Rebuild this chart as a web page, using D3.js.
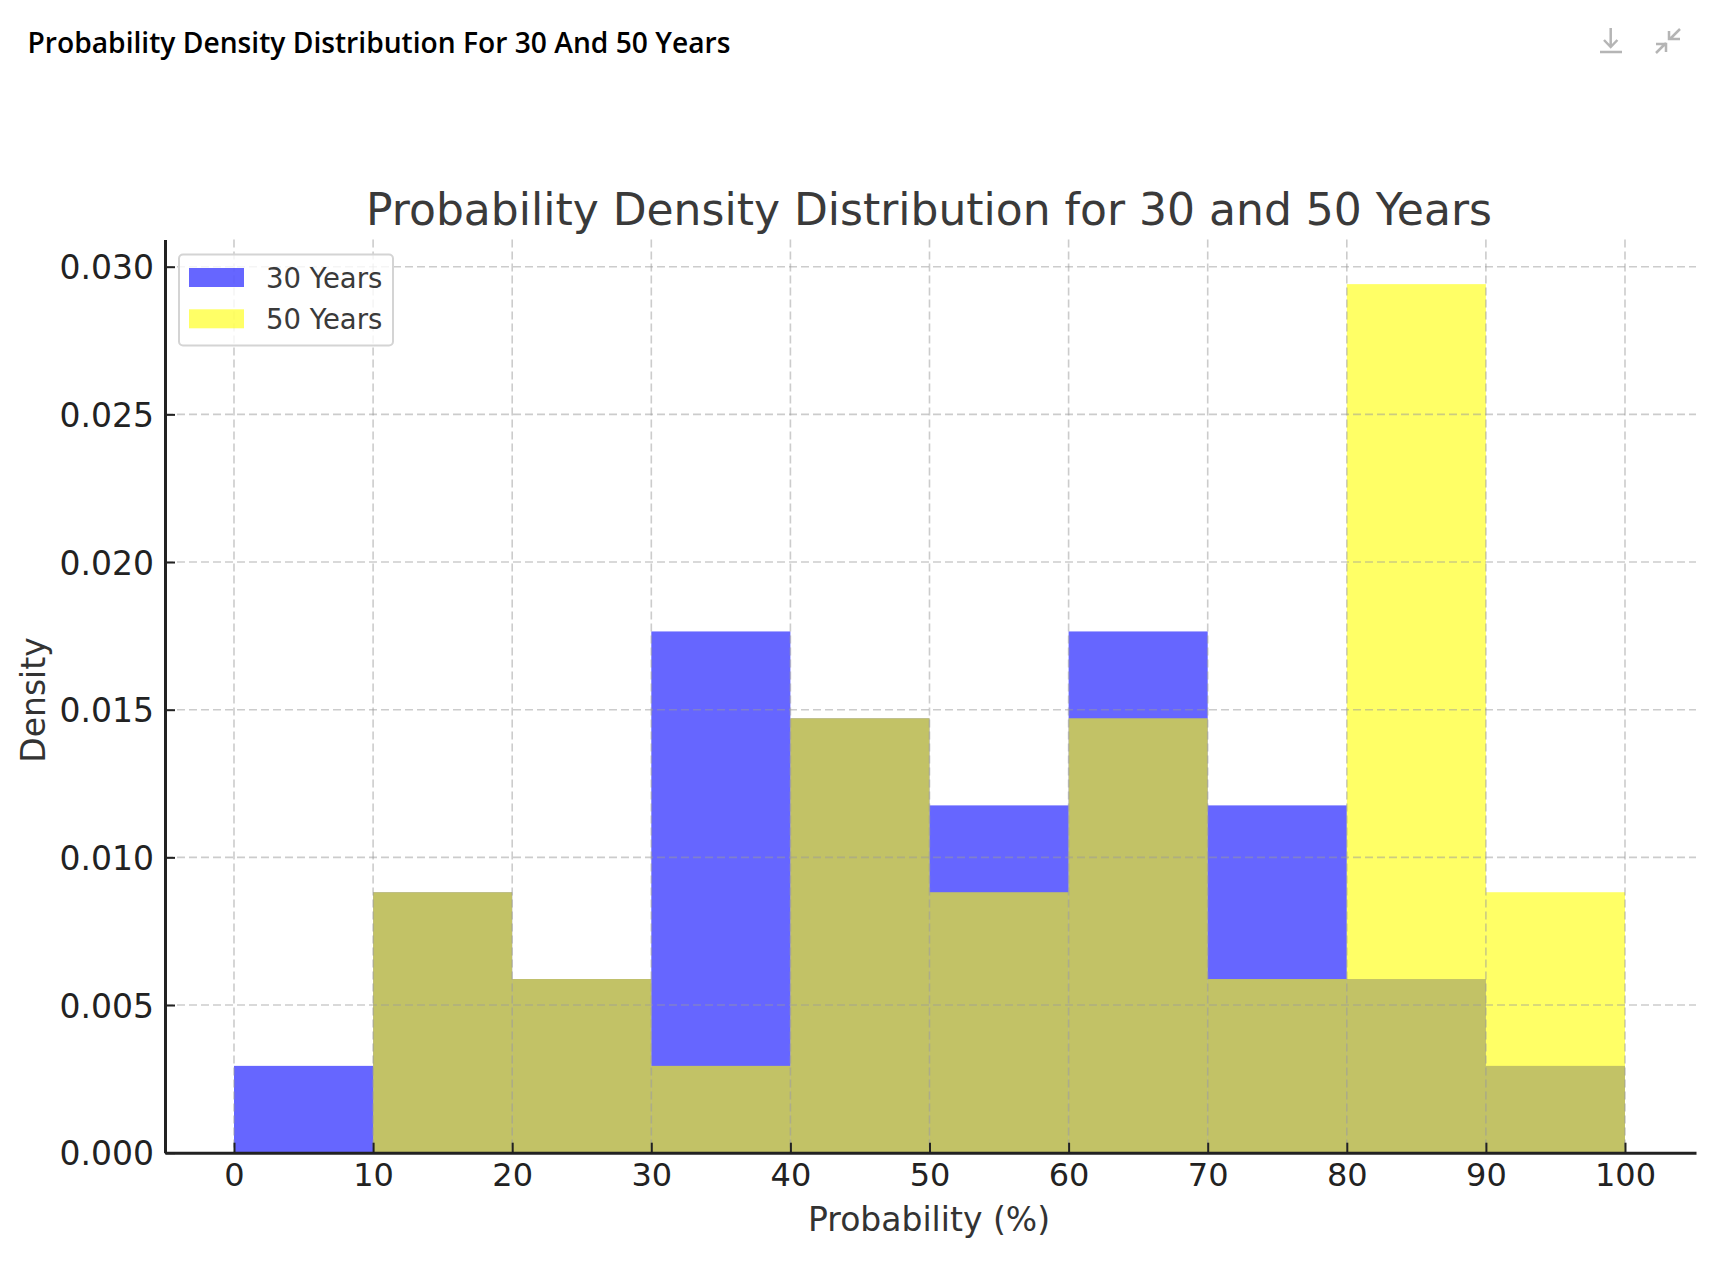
<!DOCTYPE html>
<html>
<head>
<meta charset="utf-8">
<script src="https://cdn.jsdelivr.net/npm/d3@7"></script>
<style>
  html, body { margin: 0; padding: 0; background: #fff; }
  svg { display: block; }
  text { font-family: "DejaVu Sans", sans-serif; }
  .page_title { font-family: "Open Sans", sans-serif; font-weight: 600; font-size: 28.2px; fill: #000; }
  .chart_title { font-size: 44px; fill: #3a3a3a; }
  .axis_label { font-size: 33px; fill: #333; }
  .axis text { font-size: 32px; fill: #222; font-family: "DejaVu Sans", sans-serif; }
  .y_axis text { font-size: 33px; }
  .axis path, .axis line { stroke: #222; }
  .axis path { stroke-width: 3px; }
  .axis line { stroke-width: 2px; }
  .grid line { stroke: #999; stroke-opacity: 0.5; stroke-width: 1.6px; stroke-dasharray: 8 4; }
  .legend_label { font-size: 27.5px; fill: #3a3a3a; }
  .icon { fill: none; stroke: #b5b5b5; stroke-width: 2.5px; }
</style>
</head>
<body>
<svg id="chart" width="1710" height="1264"></svg>
<script>
var pageTitle = 'Probability Density Distribution For 30 And 50 Years';
var chartTitle = 'Probability Density Distribution for 30 and 50 Years';
var xLabel = 'Probability (%)';
var yLabel = 'Density';

var binStarts = [0, 10, 20, 30, 40, 50, 60, 70, 80, 90];
var binWidth = 10;
var years30 = [0.00294, 0.00882, 0.00588, 0.01765, 0.01471, 0.01176, 0.01765, 0.01176, 0.00588, 0.00294];
var years50 = [0, 0.00882, 0.00588, 0.00294, 0.01471, 0.00882, 0.01471, 0.00588, 0.02941, 0.00882];
var xTicks = [0, 10, 20, 30, 40, 50, 60, 70, 80, 90, 100];
var yTicks = [0, 0.005, 0.01, 0.015, 0.02, 0.025, 0.03];
var seriesNames = ['30 Years', '50 Years'];
var seriesColors = ['#0000ff', '#ffff00'];

var svg = d3.select('#chart');

var plotLeft = 165, plotRight = 1696, plotTop = 239.5, plotBottom = 1152.7;

var x = d3.scaleLinear().domain([0, 100]).range([234, 1625]);
var y = d3.scaleLinear().domain([0, 0.03]).range([plotBottom, 266.7]);

svg.append('text')
  .attr('class', 'page_title')
  .attr('x', 27.5)
  .attr('y', 53)
  .text(pageTitle);

// toolbar icons
svg.append('path')
  .attr('class', 'icon')
  .attr('d', 'M1610.7 28V47M1604 40L1610.7 47L1617.4 40M1600 52H1622');
svg.append('path')
  .attr('class', 'icon')
  .attr('d', 'M1680 29L1670 39M1669 31V39H1680M1656 53L1666 43M1656 44H1666V52');

svg.append('text')
  .attr('class', 'chart_title')
  .attr('x', 929)
  .attr('y', 224.5)
  .attr('text-anchor', 'middle')
  .text(chartTitle);

[years30, years50].forEach(function(values, i) {
  svg.append('g')
    .selectAll('rect')
    .data(values)
    .join('rect')
      .attr('x', function(d, j) { return x(binStarts[j]); })
      .attr('width', function(d, j) { return x(binStarts[j] + binWidth) - x(binStarts[j]); })
      .attr('y', function(d) { return y(d); })
      .attr('height', function(d) { return y(0) - y(d); })
      .attr('fill', seriesColors[i])
      .attr('fill-opacity', 0.6);
});

var grid = svg.append('g').attr('class', 'grid');

grid.selectAll('line.v')
  .data(xTicks)
  .join('line')
    .attr('class', 'v')
    .attr('x1', function(d) { return x(d); })
    .attr('x2', function(d) { return x(d); })
    .attr('y1', plotTop)
    .attr('y2', plotBottom);

grid.selectAll('line.h')
  .data(yTicks)
  .join('line')
    .attr('class', 'h')
    .attr('x1', plotLeft)
    .attr('x2', plotRight)
    .attr('y1', function(d) { return y(d); })
    .attr('y2', function(d) { return y(d); });

// axis scales share the full spine extent, so the domain path draws the spines
var xSpine = d3.scaleLinear()
  .domain([x.invert(plotLeft), x.invert(plotRight)])
  .range([plotLeft, plotRight]);
var ySpine = d3.scaleLinear()
  .domain([y.invert(plotBottom), y.invert(plotTop)])
  .range([plotBottom, plotTop]);

svg.append('g')
  .attr('class', 'axis')
  .attr('transform', 'translate(0,' + plotBottom + ')')
  .call(d3.axisBottom(xSpine).tickValues(xTicks).tickSize(-10).tickSizeOuter(0).tickPadding(11).tickFormat(d3.format('d')));

svg.append('g')
  .attr('class', 'axis y_axis')
  .attr('transform', 'translate(' + plotLeft + ',0)')
  .call(d3.axisLeft(ySpine).tickValues(yTicks).tickSize(-10).tickSizeOuter(0).tickPadding(11).tickFormat(d3.format('.3f')))
  .selectAll('text')
    .attr('dy', '0.37em');

svg.append('text')
  .attr('class', 'axis_label')
  .attr('x', 929)
  .attr('y', 1231)
  .attr('text-anchor', 'middle')
  .text(xLabel);

svg.append('text')
  .attr('class', 'axis_label')
  .attr('transform', 'translate(45,700) rotate(-90)')
  .attr('text-anchor', 'middle')
  .text(yLabel);

// legend
var legend = svg.append('g').attr('class', 'legend');

legend.append('rect')
  .attr('x', 179)
  .attr('y', 254.5)
  .attr('width', 214)
  .attr('height', 91)
  .attr('rx', 4)
  .attr('fill', '#fff')
  .attr('fill-opacity', 0.8)
  .attr('stroke', '#d4d4d4')
  .attr('stroke-width', 2);

seriesNames.forEach(function(name, i) {
  legend.append('rect')
    .attr('x', 189)
    .attr('y', 268 + i * 41.3)
    .attr('width', 55)
    .attr('height', 19)
    .attr('fill', seriesColors[i])
    .attr('fill-opacity', 0.6);

  legend.append('text')
    .attr('class', 'legend_label')
    .attr('x', 266)
    .attr('y', 287.5 + i * 41.3)
    .text(name);
});
</script>
</body>
</html>
